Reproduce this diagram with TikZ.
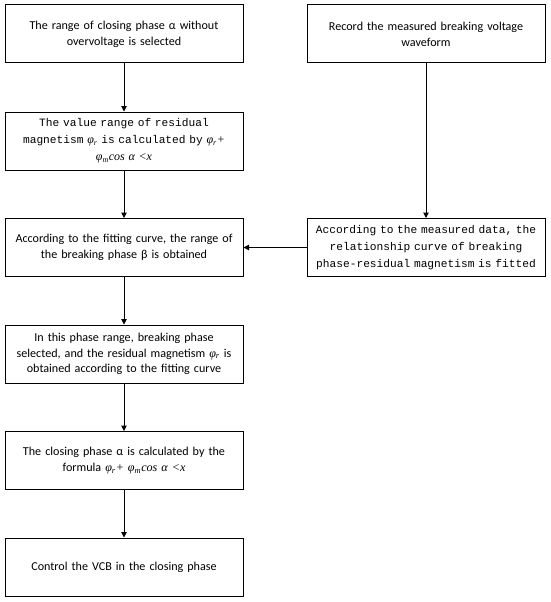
\documentclass[tikz,border=0pt]{standalone}
\usepackage{fontspec}
\setmainfont{Carlito}
\newfontfamily\monof{Liberation Mono}
\newfontfamily\serf{Liberation Serif}
\usetikzlibrary{arrows.meta}
\newcommand{\phr}{{\serf\itshape φ\textsubscript{r}}}
\newcommand{\formula}{{\serf\itshape φ\textsubscript{r}+ φ\textsubscript{m}cos α <x}}
\begin{document}
\begin{tikzpicture}[x=1pt,y=-1pt,
  box/.style={draw,line width=1pt,minimum width=238pt,minimum height=58pt,inner sep=2pt,align=center,text width=232pt,font=\fontsize{12.1}{15.7}\selectfont},
  mbox/.style={box,font=\monof\fontsize{11.2}{17}\selectfont},
  arr/.style={line width=1pt,-{Triangle[length=5.5pt,width=5.5pt]}}]
\useasboundingbox (0,0) rectangle (550,602);
\node[box] (b1) at (124,34) {The range of closing phase α without\\overvoltage is selected};
\node[mbox] (b2) at (124,141) {The value range of residual\\magnetism {\fontsize{12}{15.7}\selectfont\phr} is calculated by {\fontsize{12}{15.7}\selectfont\serf\itshape φ\textsubscript{r}+}\\{\fontsize{12}{15.7}\selectfont\serf\itshape φ\textsubscript{m}cos α <x}};
\node[box] (b3) at (124,247.5) {According to the fitting curve, the range of\\the breaking phase β is obtained};
\node[box] (b4) at (124,354) {In this phase range, breaking phase\\selected, and the residual magnetism \phr\ is\\obtained according to the fitting curve};
\node[box] (b5) at (124,460.5) {The closing phase α is calculated by the\\formula \formula};
\node[box] (b6) at (124,567) {Control the VCB in the closing phase};
\node[box] (r1) at (426,34) {Record the measured breaking voltage\\waveform};
\node[mbox] (r2) at (426,247.5) {According to the measured data, the\\relationship curve of breaking\\phase-residual magnetism is fitted};
\draw[arr] (b1) -- (b2);
\draw[arr] (b2) -- (b3);
\draw[arr] (b3) -- (b4);
\draw[arr] (b4) -- (b5);
\draw[arr] (b5) -- (b6);
\draw[arr] (r1) -- (r2);
\draw[arr] (r2) -- (b3);
\end{tikzpicture}
\end{document}
